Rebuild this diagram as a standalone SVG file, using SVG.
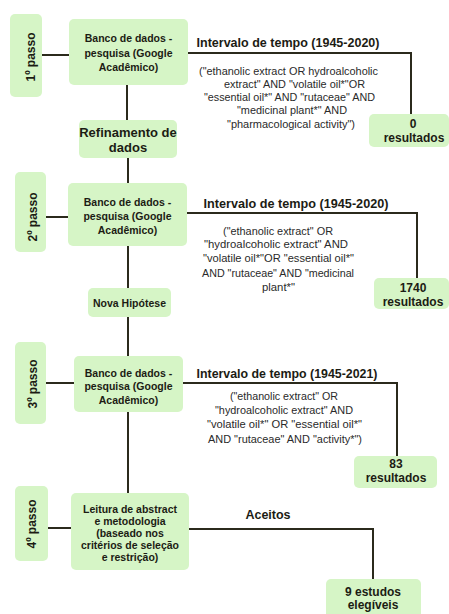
<svg xmlns="http://www.w3.org/2000/svg" width="449" height="614" viewBox="0 0 449 614">
<style>
.box{fill:#d6f5c6;}
.t{font-family:"Liberation Sans",Arial,sans-serif;font-weight:bold;fill:#1c1c14;text-anchor:middle;}
.q{font-family:"Liberation Sans",Arial,sans-serif;font-size:11px;fill:#2a2a2a;text-anchor:middle;}
.c{fill:none;stroke:#2b2a1c;stroke-width:2;}
</style>
<rect width="449" height="614" fill="#ffffff"/>
<g id="connectors">
<path class="c" d="M42 55H69"/>
<path class="c" d="M46 217H68"/>
<path class="c" d="M46 383H74"/>
<path class="c" d="M48 528H71"/>
<path class="c" d="M188 53H411V114"/>
<path class="c" d="M187 213H417V278"/>
<path class="c" d="M183 383H397V456"/>
<path class="c" d="M189 529H373V579"/>
<path class="c" d="M127 85V120"/>
<path class="c" d="M128 158V183"/>
<path class="c" d="M128 246V288"/>
<path class="c" d="M128 317V356"/>
<path class="c" d="M128 412V493"/>
</g>
<g id="labels">
<text class="t" x="288" y="47" font-size="12.5" textLength="183" lengthAdjust="spacingAndGlyphs">Intervalo de tempo (1945-2020)</text>
<text class="t" x="296" y="208" font-size="12.5" textLength="185" lengthAdjust="spacingAndGlyphs">Intervalo de tempo (1945-2020)</text>
<text class="t" x="287" y="378" font-size="12.5" textLength="181" lengthAdjust="spacingAndGlyphs">Intervalo de tempo (1945-2021)</text>
<text class="t" x="268" y="519" font-size="12.5">Aceitos</text>
<text class="q" x="288.5" y="75" textLength="179" lengthAdjust="spacingAndGlyphs">("ethanolic extract OR hydroalcoholic</text>
<text class="q" x="294.5" y="88" textLength="141" lengthAdjust="spacingAndGlyphs">extract" AND "volatile oil*"OR</text>
<text class="q" x="289.5" y="101" textLength="171" lengthAdjust="spacingAndGlyphs">"essential oil*" AND "rutaceae" AND</text>
<text class="q" x="292" y="114" textLength="110" lengthAdjust="spacingAndGlyphs">"medicinal plant*" AND</text>
<text class="q" x="291" y="128" textLength="128" lengthAdjust="spacingAndGlyphs">"pharmacological activity")</text>
<text class="q" x="278" y="235" textLength="110" lengthAdjust="spacingAndGlyphs">("ethanolic extract" OR</text>
<text class="q" x="276" y="248" textLength="144" lengthAdjust="spacingAndGlyphs">"hydroalcoholic extract" AND</text>
<text class="q" x="278.5" y="262" textLength="151" lengthAdjust="spacingAndGlyphs">"volatile oil*"OR "essential oil*"</text>
<text class="q" x="278" y="277" textLength="152" lengthAdjust="spacingAndGlyphs">AND "rutaceae" AND "medicinal</text>
<text class="q" x="278.5" y="291" textLength="33" lengthAdjust="spacingAndGlyphs">plant*"</text>
<text class="q" x="284" y="400" textLength="108" lengthAdjust="spacingAndGlyphs">("ethanolic extract" OR</text>
<text class="q" x="284" y="414" textLength="138" lengthAdjust="spacingAndGlyphs">"hydroalcoholic extract" AND</text>
<text class="q" x="284.5" y="428" textLength="155" lengthAdjust="spacingAndGlyphs">"volatile oil*" OR "essential oil*"</text>
<text class="q" x="285" y="443" textLength="154" lengthAdjust="spacingAndGlyphs">AND "rutaceae" AND "activity*")</text>
</g>
<g id="passo1">
<rect class="box" x="10" y="14" width="32" height="83" rx="5"/>
<text class="t" font-size="12" transform="translate(31 57) rotate(-90)" dominant-baseline="central">1º passo</text>
</g>
<g id="passo2">
<rect class="box" x="15" y="172" width="31" height="80" rx="5"/>
<text class="t" font-size="12" transform="translate(33 217) rotate(-90)" dominant-baseline="central">2º passo</text>
</g>
<g id="passo3">
<rect class="box" x="15" y="342" width="31" height="82" rx="5"/>
<text class="t" font-size="12" transform="translate(33 384) rotate(-90)" dominant-baseline="central">3º passo</text>
</g>
<g id="passo4">
<rect class="box" x="15" y="486" width="33" height="75" rx="5"/>
<text class="t" font-size="12" transform="translate(32 524) rotate(-90)" dominant-baseline="central">4º passo</text>
</g>
<g id="banco1">
<rect class="box" x="69" y="19" width="119" height="66" rx="5"/>
<text class="t" font-size="10.5" x="128.5" y="42">Banco de dados -</text>
<text class="t" font-size="10.5" x="128.5" y="57">pesquisa (Google</text>
<text class="t" font-size="10.5" x="128.5" y="71">Acadêmico)</text>
</g>
<g id="refinamento">
<rect class="box" x="79" y="120" width="98" height="38" rx="5"/>
<text class="t" font-size="13" x="128" y="137">Refinamento de</text>
<text class="t" font-size="13" x="128" y="152">dados</text>
</g>
<g id="res0">
<rect class="box" x="369" y="114" width="80" height="33" rx="5"/>
<text class="t" font-size="12" x="413" y="128">0</text>
<text class="t" font-size="12" x="414" y="142">resultados</text>
</g>
<g id="banco2">
<rect class="box" x="68" y="183" width="119" height="63" rx="5"/>
<text class="t" font-size="10.5" x="127.5" y="206">Banco de dados -</text>
<text class="t" font-size="10.5" x="127.5" y="220">pesquisa (Google</text>
<text class="t" font-size="10.5" x="127.5" y="234">Acadêmico)</text>
</g>
<g id="novahipotese">
<rect class="box" x="88" y="288" width="83" height="29" rx="5"/>
<text class="t" font-size="10.5" x="129.5" y="307">Nova Hipótese</text>
</g>
<g id="res1740">
<rect class="box" x="374" y="278" width="75" height="31" rx="5"/>
<text class="t" font-size="12" x="413" y="292">1740</text>
<text class="t" font-size="12" x="413" y="306">resultados</text>
</g>
<g id="banco3">
<rect class="box" x="74" y="356" width="109" height="56" rx="5"/>
<text class="t" font-size="10.5" x="128.5" y="377">Banco de dados -</text>
<text class="t" font-size="10.5" x="128.5" y="390">pesquisa (Google</text>
<text class="t" font-size="10.5" x="128.5" y="404">Acadêmico)</text>
</g>
<g id="res83">
<rect class="box" x="354" y="456" width="83" height="32" rx="5"/>
<text class="t" font-size="12" x="396" y="468">83</text>
<text class="t" font-size="12" x="396" y="482">resultados</text>
</g>
<g id="leitura">
<rect class="box" x="71" y="493" width="118" height="77" rx="5"/>
<text class="t" font-size="10.5" x="130" y="513">Leitura de abstract</text>
<text class="t" font-size="10.5" x="130" y="525">e metodologia</text>
<text class="t" font-size="10.5" x="130" y="537">(baseado nos</text>
<text class="t" font-size="10.5" x="130" y="549">critérios de seleção</text>
<text class="t" font-size="10.5" x="130" y="561">e restrição)</text>
</g>
<g id="estudos">
<rect class="box" x="326" y="579" width="95" height="40" rx="5"/>
<text class="t" font-size="12" x="373" y="596">9 estudos</text>
<text class="t" font-size="12" x="373" y="609">elegíveis</text>
</g>
</svg>
